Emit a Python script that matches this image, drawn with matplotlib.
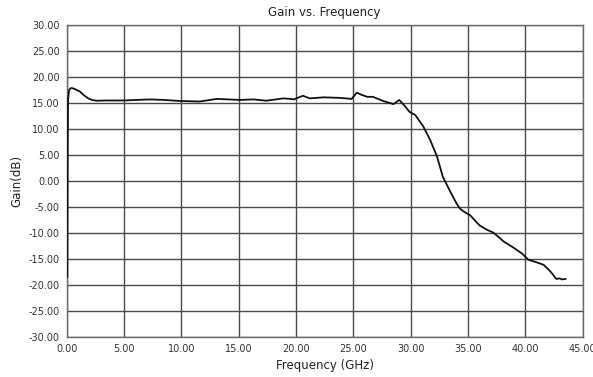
import matplotlib
matplotlib.use("Agg")
import matplotlib.pyplot as plt
import numpy as np

freq_ghz = [0.05, 0.07, 0.09, 0.12, 0.2, 0.3, 0.44, 0.7, 1.16, 1.5, 1.88, 2.2, 2.6, 3.5, 5.0, 6.0, 7.3, 8.5,
            9.9, 11.6, 13.1, 15.1, 16.3, 17.4, 18.9, 19.5, 19.8, 20.6, 21.2, 22.4, 23.8, 24.85, 25.3,
            25.7, 26.2, 26.7, 27.6, 28.5, 29.0, 29.5, 29.9, 30.4, 31.1, 31.7, 32.3, 32.8, 33.4,
            34.0, 34.3, 34.6, 35.2, 36.0, 36.6, 37.2, 37.8, 38.1, 38.9, 39.7, 40.25, 41.1, 41.6, 42.2,
            42.7, 43.0, 43.2, 43.5]
gain_db = [-18.5, -5.0, 8.0, 15.5, 17.3, 17.7, 17.8, 17.6, 17.1, 16.4, 15.8, 15.5, 15.35, 15.4, 15.4, 15.5, 15.6, 15.5,
           15.3, 15.2, 15.7, 15.5, 15.6, 15.35, 15.8, 15.7, 15.6, 16.3, 15.8, 16.0, 15.9, 15.7, 16.9,
           16.5, 16.1, 16.1, 15.3, 14.7, 15.5, 14.3, 13.2, 12.6, 10.4, 7.8, 4.6, 0.75, -1.9,
           -4.4, -5.4, -5.9, -6.7, -8.6, -9.4, -10.0, -11.1, -11.7, -12.8, -14.0, -15.2, -15.8, -16.2, -17.5,
           -18.9, -18.8, -19.0, -18.9]

title = "Gain vs. Frequency"
xlabel = "Frequency (GHz)"
ylabel = "Gain(dB)"
xticks = np.arange(0, 45.01, 5)
yticks = np.arange(-30, 30.01, 5)

fig = plt.figure(figsize=(5.93, 3.77), dpi=100)
ax = fig.add_axes([0.1125, 0.107, 0.8701, 0.828])
ax.plot(freq_ghz, gain_db, color="#111111", lw=1.3, zorder=3, solid_joinstyle="round")
ax.set_xlim(0, 45)
ax.set_ylim(-30, 30)
ax.set_xticks(xticks)
ax.set_yticks(yticks)
ax.set_xticklabels([f"{v:.2f}" for v in xticks])
ax.set_yticklabels([f"{v:.2f}" for v in yticks])
ax.grid(True, color="#4a4a4a", lw=1.0)
ax.set_axisbelow(True)
for s in ax.spines.values():
    s.set_color("#6a6a6a")
    s.set_linewidth(1.0)
ax.tick_params(length=0, labelsize=7, colors="#333333", pad=5)
ax.set_title(title, fontsize=8.5, color="#222222", pad=6)
ax.set_xlabel(xlabel, fontsize=8.5, color="#222222", labelpad=4)
ax.set_ylabel(ylabel, fontsize=8.5, color="#222222", labelpad=4)
fig.savefig("out.png", dpi=100)
